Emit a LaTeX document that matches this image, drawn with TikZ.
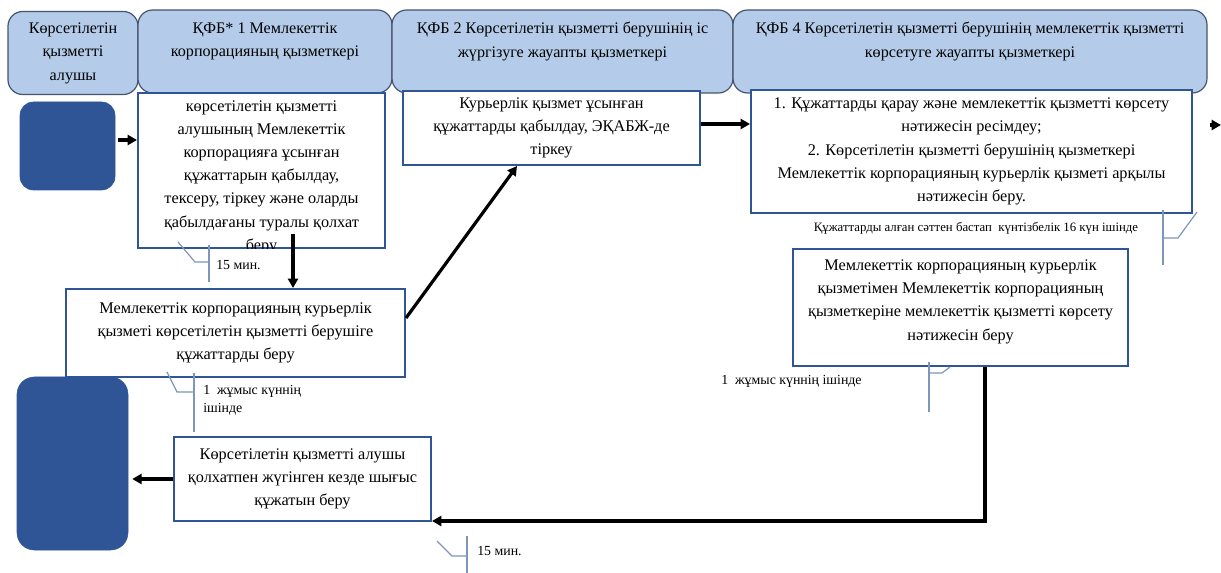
\documentclass[tikz,border=0pt]{standalone}
\usepackage{fontspec}
\setmainfont{Liberation Serif}
\usetikzlibrary{arrows.meta,calc}
\definecolor{headfill}{rgb}{0.706,0.800,0.914}
\definecolor{headline}{rgb}{0.267,0.329,0.435}
\definecolor{boxline}{rgb}{0.184,0.333,0.592}
\definecolor{darkblock}{rgb}{0.184,0.333,0.588}
\definecolor{callout}{rgb}{0.490,0.588,0.725}

\begin{document}
\begin{tikzpicture}[x=0.75pt,y=0.75pt,yscale=-1,xscale=1,
	head/.style={draw=headline,fill=headfill,rounded corners=11pt,line width=0.9pt,align=center,inner sep=0pt,font=\fontsize{12.1}{17.6}\selectfont},
	box/.style={draw=boxline,fill=white,line width=1.5pt,align=center,inner sep=0pt,font=\fontsize{12.2}{17.4}\selectfont},
	block/.style={draw=darkblock,fill=darkblock,rounded corners=10pt},
	arr/.style={line width=2.4pt,-{Triangle[length=7pt,width=7.5pt]}},
	note/.style={inner sep=0pt,align=left,font=\fontsize{10.4}{13.5}\selectfont},
	lead/.style={draw=callout,line width=0.9pt}]
			\useasboundingbox (0,0) rectangle (1221,573);
			% lanes
			\draw (73,53) node (H0) [head,minimum width=97.5pt,minimum height=62.25pt] {Көрсетілетін\\қызметті\\алушы};
			\draw (265,51.5) node (H1) [head,minimum width=190.5pt,minimum height=62.25pt] {ҚФБ* 1 Мемлекеттік\\корпорацияның қызметкері\\ \mbox{}};
			\draw (562.5,51.5) node (H2) [head,minimum width=255.75pt,minimum height=62.25pt] {ҚФБ 2 Көрсетілетін қызметті берушінің іс\\жүргізуге жауапты қызметкері\\ \mbox{}};
			\draw (970,51.5) node (H3) [head,minimum width=355.5pt,minimum height=62.25pt] {ҚФБ 4 Көрсетілетін қызметті берушінің мемлекеттік қызметті\\көрсетуге жауапты қызметкері\\ \mbox{}};
			
			% start / end
			\draw (67.5,146) node (D1) [block,minimum width=71.25pt,minimum height=66pt] {};
			\draw (72.5,463.5) node (D2) [block,rounded corners=13pt,minimum width=83.25pt,minimum height=129.75pt] {};
			
			% steps
			\draw (261.5,170.5) node (B1) [box,minimum width=185.25pt,minimum height=116.25pt] {};
			\begin{scope}
			\clip (B1.north west) rectangle (B1.south east);
			\draw (261.5,177) node (B1text) [align=center,inner sep=0pt,font=\fontsize{12.2}{17.4}\selectfont] {көрсетілетін қызметті\\алушының Мемлекеттік\\корпорацияға ұсынған\\құжаттарын қабылдау,\\тексеру, тіркеу және оларды\\қабылдағаны туралы қолхат\\беру};
			\end{scope}
			\draw (551.5,128) node (B2) [box,minimum width=222.75pt,minimum height=55.5pt] {Курьерлік қызмет ұсынған\\құжаттарды қабылдау, ЭҚАБЖ-де\\тіркеу};
			\draw (971.5,151.5) node (B3) [box,minimum width=330.75pt,minimum height=92.25pt] {1. Құжаттарды қарау және мемлекеттік қызметті көрсету\\нәтижесін ресімдеу;\\2. Көрсетілетін қызметті берушінің қызметкері\\Мемлекеттік корпорацияның курьерлік қызметі арқылы\\нәтижесін беру.};
			\draw (235.5,333) node (B4) [box,minimum width=254.25pt,minimum height=66pt] {Мемлекеттік корпорацияның курьерлік\\қызметі көрсетілетін қызметті берушіге\\құжаттарды беру};
			\draw (960.5,307.5) node (B5) [box,minimum width=251.25pt,minimum height=87.75pt] {Мемлекеттік корпорацияның курьерлік\\қызметімен Мемлекеттік корпорацияның\\қызметкеріне мемлекеттік қызметті көрсету\\нәтижесін беру\\[-6pt] \mbox{}};
			\draw (302.5,479) node (B6) [box,minimum width=192.75pt,minimum height=63pt] {Көрсетілетін қызметті алушы\\қолхатпен жүгінген кезде шығыс\\құжатын беру};
			
			% flow
			\draw[arr] ($(D1.east)+(3,-6)$) -- ($(D1.east -| B1.west)+(0,-6)$);
			\draw[arr] ($(B1.south)+(31.5,-15)$) -- ($(B4.north)+(57.5,0)$);
			\draw[arr] ($(B4.east)+(0,-15)$) -- ($(B2.south)+(-34.5,0)$);
			\draw[arr] ($(B2.east)+(0,-4)$) -- ($(B2.east -| B3.west)+(0,-4)$);
			\coordinate (out1) at (1210,125);
			\coordinate (out2) at (1221,125);
			\draw[arr] (out1) -- (out2);
			\draw[arr] ($(B5.south)+(24.5,0)$) |- ($(B6.south east)+(0,-1)$);
			\draw[arr,shorten >=3pt] (B6.west) -- (B6.west -| D2.east);
			
			% times
			\draw (216,265) node (t1) [note,anchor=west] {15 мин.};
			\draw[lead] (178,242) -- (195,262) -- (209,262);
			\draw[lead] (209,245) -- (209,282);
			\draw (203,385) node (t2) [note,anchor=north west] {1\ \ жұмыс күннің\\ішінде};
			\draw[lead] (167,372) -- (177,392) -- (194,392);
			\draw[lead] (194,373) -- (194,432);
			\draw (976,228) node (t3) [note,font=\fontsize{9.6}{12}\selectfont] {Құжаттарды алған сәттен бастап\ \ күнтізбелік 16 күн ішінде};
			\draw[lead] (1197,212) -- (1178,238) -- (1163,238);
			\draw[lead] (1163,210) -- (1163,265);
			\draw (721,381) node (t4) [note,anchor=west] {1\ \ жұмыс күннің ішінде};
			\draw[lead] (950,367) -- (942,373) -- (929,373);
			\draw[lead] (929,362) -- (929,412);
			\draw (477,551) node (t5) [note,anchor=west] {15 мин.};
			\draw[lead] (437,541) -- (452,556) -- (467,556);
			\draw[lead] (467,536) -- (467,573);
			\end{tikzpicture}
\end{document}
